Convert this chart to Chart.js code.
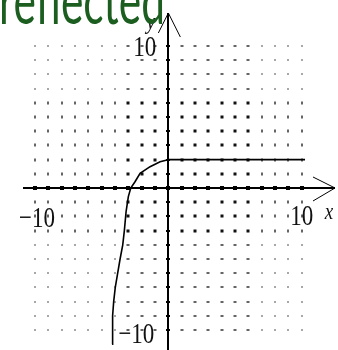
<!DOCTYPE html>
<html>
<head>
<meta charset="utf-8">
<script src="https://cdn.jsdelivr.net/npm/chart.js@4"></script>
<style>
  html, body { margin: 0; padding: 0; background: #fff; }
  #wrap { width: 338px; height: 350px; position: relative; }
</style>
</head>
<body>
<div id="wrap"><canvas id="graph"></canvas></div>
<script>
// --- DATA ---
const curveX = [-4.22, -4.18, -4.1, -3.98, -3.8, -3.62, -3.42, -3.3, -3.17, -3.0, -2.82, -2.5, -2.12, -1.37, -0.62, 0.05, 10.25];
const curveY = [-11.0, -9, -8, -7, -6, -5, -4, -3, -1.67, -0.61, 0, 0.44, 1.03, 1.5, 1.85, 2.0, 2.0];
const gridValues = [-10, -9, -8, -7, -6, -5, -4, -3, -2, -1, 0, 1, 2, 3, 4, 5, 6, 7, 8, 9, 10];
const coreCols = [-3, -2, -1, 1, 2, 3, 4, 5, 6];
const coreRows = [-3, -2, -1, 0, 1, 2, 3, 4, 5, 6];
const xTickLabels = ['\u221210', '10'];
const yTickLabels = ['10', '\u221210'];
const note = 'reflected';

// --- helpers ---
function stretchedText(ctx, txt, x, y, align, size, sy, style) {
  ctx.save();
  ctx.font = (style ? style + ' ' : '') + size + 'px "Liberation Serif", "Times New Roman", serif';
  ctx.textAlign = align;
  ctx.textBaseline = 'middle';
  ctx.translate(x, y);
  ctx.scale(1, sy);
  ctx.fillText(txt, 0, 0);
  ctx.restore();
}

const paperPlugin = {
  id: 'paper',
  beforeDatasetsDraw(chart) {
    const ctx = chart.ctx, xs = chart.scales.x, ys = chart.scales.y;
    const px = v => Math.round(xs.getPixelForValue(v));
    const py = v => Math.round(ys.getPixelForValue(v));
    ctx.save();
    // dotted grid
    gridValues.forEach(gx => {
      gridValues.forEach(gy => {
        const cx = px(gx), cy = py(gy);
        const coreC = coreCols.includes(gx), coreR = coreRows.includes(gy);
        if (gy === 0) { ctx.fillStyle = '#000'; ctx.fillRect(cx - 2, cy - 2, 4, 4); return; }
        if (gx === 0) { ctx.fillStyle = '#000'; ctx.fillRect(cx - 2, cy - 1, 4, 2); return; }
        if (coreC && coreR) { ctx.fillStyle = '#111'; ctx.fillRect(cx - 1.5, cy - 1.5, 3, 3); }
        else if (coreC) { ctx.fillStyle = '#333'; ctx.fillRect(cx - 1.5, cy - 0.75, 3, 1.5); }
        else if (coreR) { ctx.fillStyle = '#333'; ctx.fillRect(cx - 0.75, cy - 1.5, 1.5, 3); }
        else { ctx.fillStyle = '#666'; ctx.fillRect(cx - 0.75, cy - 0.75, 1.5, 1.5); }
      });
    });
    // axes
    ctx.strokeStyle = '#000';
    ctx.lineWidth = 2;
    ctx.beginPath();
    ctx.moveTo(23, py(0)); ctx.lineTo(335, py(0));
    ctx.moveTo(px(0), 13); ctx.lineTo(px(0), 350);
    ctx.stroke();
    ctx.restore();
  },
  afterDatasetsDraw(chart) {
    const ctx = chart.ctx, xs = chart.scales.x, ys = chart.scales.y;
    const px = v => xs.getPixelForValue(v);
    const py = v => ys.getPixelForValue(v);
    const ox = px(0), oy = py(0);
    ctx.save();
    // arrow heads
    ctx.strokeStyle = '#000';
    ctx.lineWidth = 1;
    ctx.beginPath();
    ctx.moveTo(313, oy - 11); ctx.lineTo(335, oy); ctx.lineTo(313, oy + 13);
    ctx.moveTo(ox - 10, 33); ctx.lineTo(ox, 13); ctx.lineTo(ox + 12, 37);
    ctx.stroke();
    // tick labels
    ctx.fillStyle = '#111';
    stretchedText(ctx, xTickLabels[0], px(-10) + 20, oy + 31, 'right', 23, 1.3);
    stretchedText(ctx, xTickLabels[1], px(10), oy + 29, 'center', 23, 1.3);
    stretchedText(ctx, yTickLabels[0], ox - 12, py(10) + 2, 'right', 23, 1.3);
    stretchedText(ctx, yTickLabels[1], ox - 14, py(-10) + 5, 'right', 23, 1.3);
    // axis names
    stretchedText(ctx, 'x', 329, oy + 25, 'center', 19, 1.2, 'italic');
    stretchedText(ctx, 'y', 151, 23, 'center', 20, 1.2, 'italic');
    // handwritten note, top cut off like the scan
    ctx.fillStyle = '#1b5e20';
    ctx.font = '66px Lato, "Open Sans", sans-serif';
    const w = ctx.measureText(note).width;
    ctx.translate(-1, 24);
    ctx.scale(166 / w, 1);
    ctx.textAlign = 'left';
    ctx.textBaseline = 'alphabetic';
    ctx.fillText(note, 0, 0);
    ctx.restore();
  }
};

new Chart(document.getElementById('graph'), {
  type: 'scatter',
  data: {
    datasets: [{
      data: curveX.map((x, i) => ({ x: x, y: curveY[i] })),
      showLine: true,
      borderColor: '#000',
      borderWidth: 1.6,
      pointRadius: 0,
      fill: false,
      tension: 0
    }]
  },
  options: {
    responsive: true,
    maintainAspectRatio: false,
    animation: false,
    layout: { padding: 0 },
    plugins: { legend: { display: false }, tooltip: { enabled: false } },
    scales: {
      x: { type: 'linear', display: false, min: -12.625, max: 12.722 },
      y: { type: 'linear', display: false, min: -11.409, max: 13.239 }
    }
  },
  plugins: [paperPlugin]
});
</script>
</body>
</html>
